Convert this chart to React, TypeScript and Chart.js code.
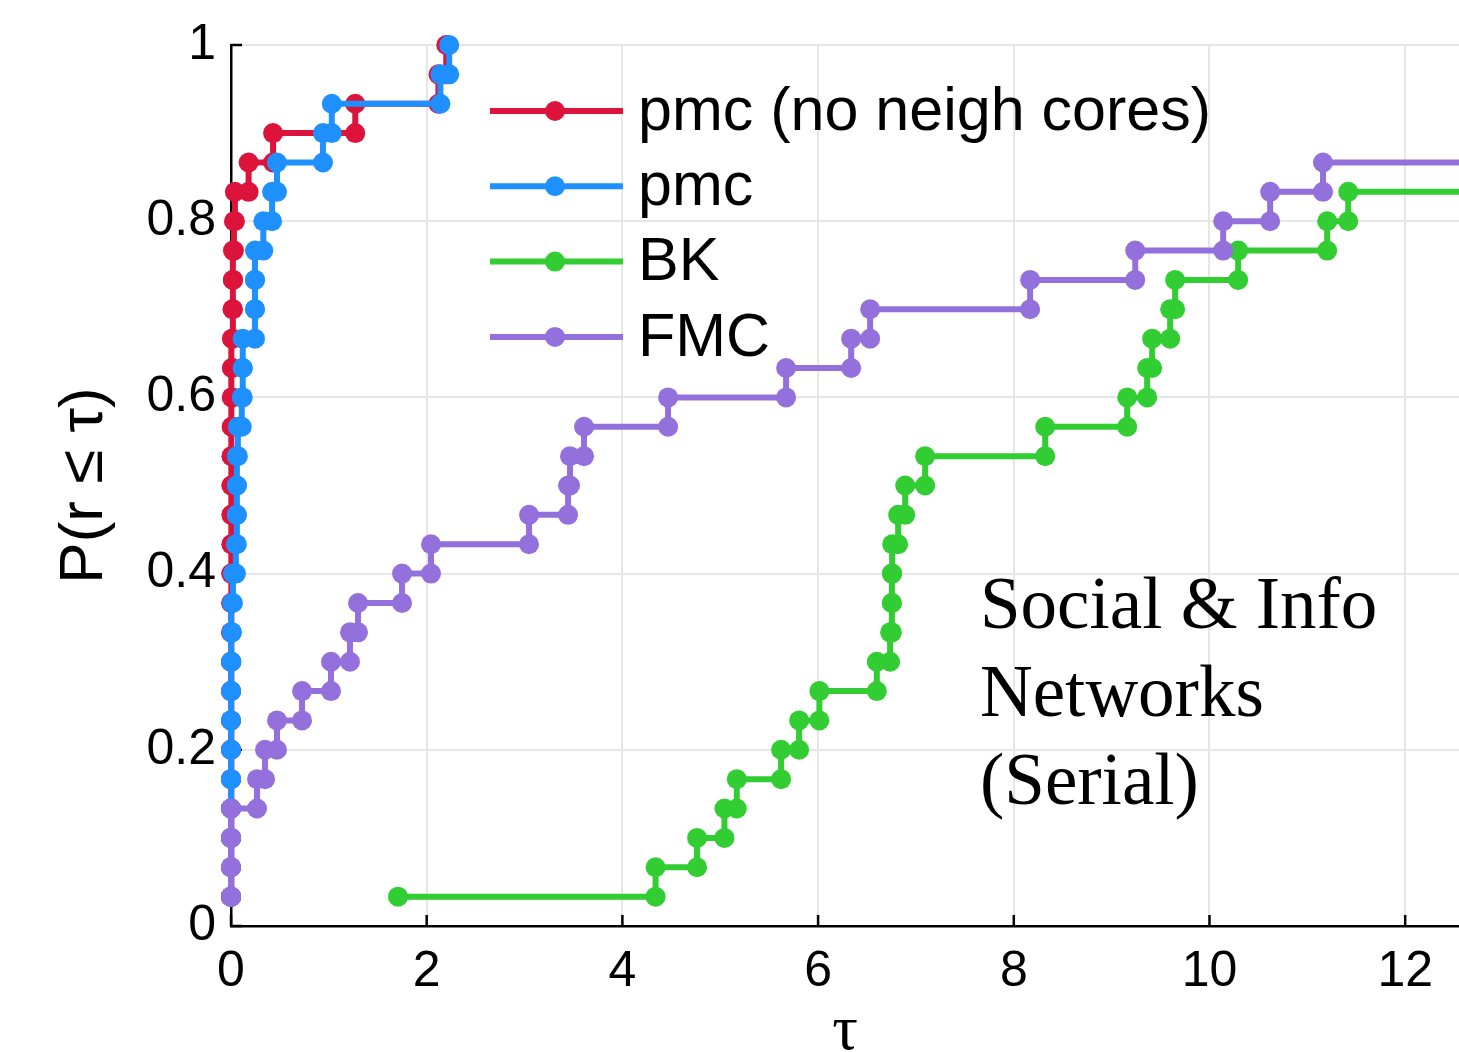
import React, { useEffect, useRef } from "react";
import { Chart, registerables } from "chart.js";

Chart.register(...registerables);

// ---- data ----
const numProblems = 30;
const xMax = 12.55;
const xTickValues = [0, 2, 4, 6, 8, 10, 12];
const xTickLabels = ["0", "2", "4", "6", "8", "10", "12"];
const yTickValues = [0, 0.2, 0.4, 0.6, 0.8, 1];
const yTickLabels = ["0", "0.2", "0.4", "0.6", "0.8", "1"];

const seriesNames = ["pmc (no neigh cores)", "pmc", "BK", "FMC"];
const seriesColors = ["#DC143C", "#1E90FF", "#32CD32", "#9370DB"];

// sorted performance ratios (tau at which each problem is solved)
const pmcNoNeighRatios = [
  0, 0, 0, 0, 0, 0, 0, 0, 0, 0, 0.003, 0.003, 0.005, 0.005, 0.005, 0.005,
  0.008, 0.008, 0.01, 0.01, 0.015, 0.02, 0.02, 0.03, 0.04, 0.18, 0.43, 1.27,
  2.12, 2.2,
];
const pmcRatios = [
  0, 0, 0, 0, 0, 0, 0, 0, 0, 0.005, 0.01, 0.02, 0.05, 0.06, 0.06, 0.06, 0.07,
  0.11, 0.12, 0.12, 0.245, 0.245, 0.245, 0.33, 0.42, 0.47, 0.94, 1.03, 2.14,
  2.23,
];
const bkRatios = [
  1.707, 4.339, 4.763, 5.043, 5.169, 5.622, 5.806, 6.013, 6.6, 6.736, 6.754,
  6.754, 6.757, 6.818, 6.89, 7.094, 8.321, 9.159, 9.363, 9.414, 9.598, 9.649,
  10.293, 11.203, 11.418,
];
const fmcRatios = [
  0, 0, 0, 0, 0.266, 0.348, 0.47, 0.726, 1.022, 1.216, 1.298, 1.748, 2.044,
  3.046, 3.445, 3.465, 3.608, 4.467, 5.673, 6.338, 6.532, 8.167, 9.241, 10.14,
  10.62, 11.16,
];

const seriesRatios = [pmcNoNeighRatios, pmcRatios, bkRatios, fmcRatios];

const annotationLines = ["Social & Info", "Networks", "(Serial)"];

function buildSteps(ratios: number[], n: number, xEnd: number) {
  const pts: any[] = [{ x: ratios[0], y: 1 / n }];
  for (let i = 1; i < ratios.length; i++) {
    pts.push({ x: ratios[i], y: i / n });
    pts.push({ x: ratios[i], y: (i + 1) / n });
  }
  if (ratios.length < n) {
    pts.push({ x: xEnd * 1.1, y: ratios.length / n, tail: true });
  }
  return pts;
}

const SANS = "'Liberation Sans', Arial, Helvetica, sans-serif";
const SERIF = "'Liberation Serif', 'Times New Roman', serif";

const inwardTicks = {
  id: "inwardTicks",
  beforeDatasetsDraw(chart: any) {
    const { ctx, chartArea, scales } = chart;
    ctx.save();
    ctx.strokeStyle = "#000";
    ctx.lineWidth = 2.5;
    const len = 11;
    xTickValues.forEach((v) => {
      const px = scales.x.getPixelForValue(v);
      ctx.beginPath();
      ctx.moveTo(px, chartArea.bottom);
      ctx.lineTo(px, chartArea.bottom - len);
      ctx.stroke();
    });
    yTickValues.forEach((v) => {
      const py = scales.y.getPixelForValue(v);
      ctx.beginPath();
      ctx.moveTo(chartArea.left, py);
      ctx.lineTo(chartArea.left + len, py);
      ctx.stroke();
    });
    ctx.restore();
  },
};

const customLegend = {
  id: "customLegend",
  afterDraw(chart: any) {
    const { ctx } = chart;
    const x1 = 490;
    const x2 = 623;
    const xDot = 555;
    const xText = 638;
    const y0 = 111;
    const dy = 75.3;
    ctx.save();
    seriesNames.forEach((name, i) => {
      const y = y0 + i * dy;
      ctx.strokeStyle = seriesColors[i];
      ctx.lineWidth = 6;
      ctx.beginPath();
      ctx.moveTo(x1, y);
      ctx.lineTo(x2, y);
      ctx.stroke();
      ctx.fillStyle = seriesColors[i];
      ctx.beginPath();
      ctx.arc(xDot, y, 10, 0, Math.PI * 2);
      ctx.fill();
      ctx.fillStyle = "#000";
      ctx.font = `61px ${SANS}`;
      ctx.textAlign = "left";
      ctx.textBaseline = "middle";
      ctx.fillText(name, xText, y + 2);
    });
    ctx.restore();
  },
};

const annotation = {
  id: "annotation",
  afterDraw(chart: any) {
    const { ctx } = chart;
    ctx.save();
    ctx.fillStyle = "#000";
    ctx.font = `73px ${SERIF}`;
    ctx.textAlign = "left";
    ctx.textBaseline = "alphabetic";
    annotationLines.forEach((line, i) => {
      ctx.fillText(line, 980, 628 + i * 88);
    });
    ctx.restore();
  },
};

export default function App() {
  const canvasRef = useRef<HTMLCanvasElement | null>(null);

  useEffect(() => {
    document.body.style.margin = "0";
    const canvas = canvasRef.current;
    if (!canvas) return;

    const order = [3, 2, 1, 0];
    const datasets = seriesRatios.map((ratios, i) => ({
      label: seriesNames[i],
      data: buildSteps(ratios, numProblems, xMax),
      borderColor: seriesColors[i],
      backgroundColor: seriesColors[i],
      pointBackgroundColor: seriesColors[i],
      pointBorderWidth: 0,
      pointRadius: (c: any) => (c.raw && c.raw.tail ? 0 : 10),
      borderWidth: 6,
      fill: false,
      tension: 0,
      clip: false as any,
      order: order[i],
    }));

    const chart = new Chart(canvas, {
      type: "line",
      data: { datasets },
      plugins: [inwardTicks, customLegend, annotation],
      options: {
        animation: false,
        responsive: false,
        devicePixelRatio: 1,
        layout: {
          autoPadding: false,
          padding: { left: 0, right: 0, top: 44, bottom: 0 },
        },
        plugins: {
          legend: { display: false },
          tooltip: { enabled: false },
        },
        scales: {
          x: {
            type: "linear",
            min: 0,
            max: xMax,
            afterBuildTicks: (scale: any) => {
              scale.ticks = xTickValues.map((v) => ({ value: v }));
            },
            afterFit: (scale: any) => {
              scale.height = 126;
              scale.paddingLeft = 0;
              scale.paddingRight = 0;
            },
            ticks: {
              callback: (_v: any, i: number) => xTickLabels[i],
              font: { family: SANS, size: 50 },
              color: "#000",
              padding: 16,
              maxRotation: 0,
              autoSkip: false,
            },
            grid: { color: "#e6e6e6", lineWidth: 2, drawTicks: false },
            border: { display: true, color: "#000", width: 2.5 },
            title: {
              display: true,
              text: "τ",
              font: { family: SERIF, size: 64, lineHeight: 0.6 },
              color: "#000",
              padding: { top: 0, bottom: 1 },
            },
          },
          y: {
            type: "linear",
            min: 0,
            max: 1,
            afterBuildTicks: (scale: any) => {
              scale.ticks = yTickValues.map((v) => ({ value: v }));
            },
            afterFit: (scale: any) => {
              scale.width = 231;
            },
            ticks: {
              callback: (_v: any, i: number) => yTickLabels[i],
              font: { family: SANS, size: 50 },
              color: "#000",
              padding: 15,
              autoSkip: false,
            },
            grid: { color: "#e6e6e6", lineWidth: 2, drawTicks: false },
            border: { display: true, color: "#000", width: 2.5 },
            title: {
              display: true,
              text: "P(r ≤ τ)",
              font: { family: SANS, size: 62, lineHeight: 1.2 },
              color: "#000",
              padding: { top: 48, bottom: 0 },
            },
          },
        },
      } as any,
    });

    return () => {
      chart.destroy();
    };
  }, []);

  return (
    <div style={{ width: 1459, height: 1052, position: "relative" }}>
      <canvas ref={canvasRef} width={1459} height={1052} style={{ display: "block" }} />
    </div>
  );
}
